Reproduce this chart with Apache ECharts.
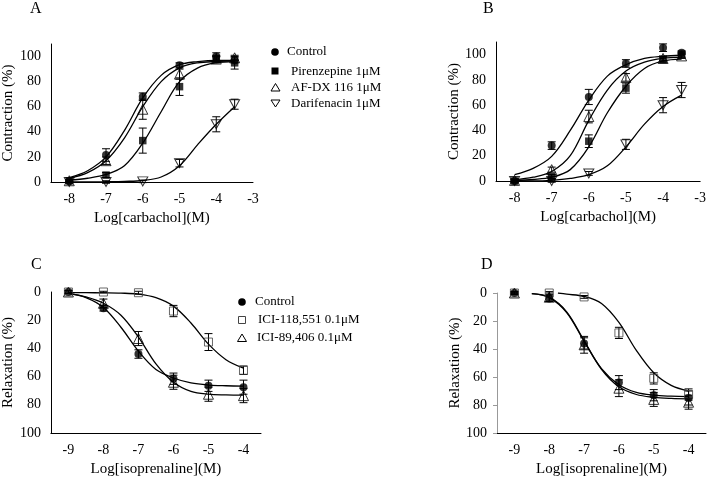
<!DOCTYPE html>
<html><head><meta charset="utf-8">
<script src="https://cdn.jsdelivr.net/npm/echarts@6/dist/echarts.min.js"></script>
<style>html,body{margin:0;padding:0;background:#fff}#c{width:709px;height:478px}</style>
</head><body><div id="c"></div>
<script>
// ---- x positions (log molar) ----
const carbX = [-8, -7, -6, -5, -4, -3.5];
const isoX = [-9, -8, -7, -6, -5, -4];

// ---- Panel A: carbachol contraction ----
const aControl = [0.5, 21.5, 68, 93, 100, 97];
const aControlErr = [1, 5, 3, 2, 3, 2];
const aPiren = [1, 5.5, 33, 76, 98, 95];
const aPirenErr = [1, 2, 10, 7, 3, 5];
const aAfdx = [1, 17, 58, 86, 98, 99];
const aAfdxErr = [1, 3, 8, 4, 2, 2];
const aDari = [0, 0, 0.5, 15, 46, 62];
const aDariErr = [0.5, 1, 1, 3, 6, 4];
const aFitX = [-8, -7.5, -7, -6.5, -6, -5.5, -5, -4.5, -4, -3.5];
const aControlFit = [3.5, 9, 20, 41, 67, 85, 93.5, 96, 97, 97];
const aAfdxFit = [3, 7.5, 17, 35, 60, 80, 91, 95, 96, 96.5];
const aPirenFit = [1.5, 3, 6, 13, 31, 56, 80, 91, 95, 96];
const aDariFit = [0, 0, 0.2, 0.5, 1.2, 4, 13, 30, 46, 60];

// ---- Panel B ----
const bControl = [0, 28, 66.5, 93, 105.5, 101.5];
const bControlErr = [1, 3, 6, 3, 3, 1.5];
const bPiren = [0, 3.5, 31.5, 73.5, 96, 100];
const bPirenErr = [1, 1.5, 5, 4, 2, 2];
const bAfdx = [0.5, 9, 51, 82, 97, 99];
const bAfdxErr = [1, 2, 5, 3, 2, 2];
const bDari = [0, 0, 6, 29, 60, 72];
const bDariErr = [0.5, 1, 1.5, 4, 6, 6];
const bFitX = [-8, -7.5, -7, -6.5, -6, -5.5, -5, -4.5, -4, -3.5];
const bControlFit = [5, 10, 19.5, 40, 64, 83, 92, 97, 98.7, 99.5];
const bAfdxFit = [1, 3, 7.5, 20, 48, 72, 87, 94, 97, 98];
const bPirenFit = [0.5, 1.2, 3, 9, 27, 54, 75, 89, 95, 96.5];
const bDariFit = [0, 0, 0.5, 2, 5, 12, 27, 45, 59, 68];

// ---- Panel C: isoprenaline relaxation ----
const cControl = [0, 11.5, 44, 61.5, 66.5, 67.5];
const cControlErr = [1, 2, 3, 4, 4, 5];
const cIci118 = [0, 0, 0.5, 13.5, 35.5, 55.5];
const cIci118Err = [1, 0.5, 1, 4, 6, 3];
const cIci89 = [0, 8, 33, 64, 72.5, 73.5];
const cIci89Err = [1, 3, 5, 5, 5, 5];
const cFitX = [-9, -8.5, -8, -7.5, -7, -6.5, -6, -5.5, -5, -4.5, -4];
const cControlFit = [1, 4, 11, 25, 42, 55, 61, 64.5, 66, 66.5, 66.7];
const cIci89Fit = [1, 3.5, 8, 16.5, 32, 51, 64, 70.5, 72.5, 73, 73.2];
const cIci118Fit = [0.5, 0.5, 0.6, 0.8, 1.5, 4, 10, 22, 37, 48, 54];

// ---- Panel D ----
const dControl = [0, 4, 36, 64, 73, 75];
const dControlErr = [1, 2, 4, 5, 4, 5];
const dIci118 = [0, 0, 2.8, 28.5, 61, 72.5];
const dIci118Err = [0.5, 1, 1, 4, 4, 4];
const dIci89 = [0, 3, 37, 68, 76, 78];
const dIci89Err = [1, 3, 6, 6, 5, 5];
const dFitX = [-8.5, -8, -7.5, -7, -6.5, -6, -5.5, -5, -4.5, -4];
const dControlFit = [0.5, 3.3, 14, 34.5, 54, 65.5, 71, 73, 73.7, 74];
const dIci89Fit = [0.5, 3, 13.5, 34, 54.5, 67, 72.5, 74.5, 75.3, 75.6];
const dIci118FitX = [-7.75, -7.5, -7, -6.5, -6, -5.5, -5, -4.5, -4];
const dIci118Fit = [0, 0.8, 2.5, 7.5, 21, 41, 57, 66, 70];

// ---- tick labels / names ----
const carbName = 'Log[carbachol](M)';
const isoName = 'Log[isoprenaline](M)';
const contrName = 'Contraction (%)';
const relaxName = 'Relaxation (%)';

const FONT = 'Liberation Serif';
const chart = echarts.init(document.getElementById('c'));

function zip(xs, ys) { return xs.map((x, i) => [x, ys[i]]); }
function zip3(xs, ys, es) { return xs.map((x, i) => [x, ys[i], es[i]]); }

function xAx(g, min, max, name) {
  return {
    type: 'value', gridIndex: g, min: min, max: max, interval: 0.5,
    name: name, nameLocation: 'middle', nameGap: 29,
    nameTextStyle: { fontFamily: FONT, fontSize: 15, color: '#000' },
    axisLine: { onZero: false, lineStyle: { color: '#000', width: 1 } },
    axisTick: { show: false },
    splitLine: { show: false },
    axisLabel: {
      margin: 10, fontFamily: FONT, fontSize: 14, color: '#000',
      showMinLabel: true, showMaxLabel: true,
      formatter: v => (Math.abs(v - Math.round(v)) < 1e-9 ? String(Math.round(v)) : '')
    }
  };
}
function yAx(g, max, inverse, name, axColor) {
  return {
    type: 'value', gridIndex: g, min: 0, max: max, interval: 20, inverse: inverse,
    name: name, nameLocation: 'middle', nameGap: 27,
    nameTextStyle: { fontFamily: FONT, fontSize: 15, color: '#000' },
    axisLine: { show: true, onZero: false, lineStyle: { color: axColor, width: 1 } },
    axisTick: { show: axColor !== '#000', length: 4, lineStyle: { color: axColor } },
    splitLine: { show: false },
    axisLabel: {
      margin: 10, fontFamily: FONT, fontSize: 14, color: '#000',
      showMaxLabel: max === 100,
      formatter: v => (v > 100 ? '' : String(v))
    }
  };
}

function errRender(params, api) {
  const x = api.value(0), y = api.value(1), e = api.value(2);
  const p1 = api.coord([x, y - e]), p2 = api.coord([x, y + e]);
  const w = 4;
  const st = { stroke: '#000', lineWidth: 1 };
  return {
    type: 'group', children: [
      { type: 'line', shape: { x1: p1[0], y1: p1[1], x2: p2[0], y2: p2[1] }, style: st },
      { type: 'line', shape: { x1: p1[0] - w, y1: p1[1], x2: p1[0] + w, y2: p1[1] }, style: st },
      { type: 'line', shape: { x1: p2[0] - w, y1: p2[1], x2: p2[0] + w, y2: p2[1] }, style: st }
    ]
  };
}

const series = [];
function fit(g, xs, ys) {
  series.push({
    type: 'line', xAxisIndex: g, yAxisIndex: g, data: zip(xs, ys),
    showSymbol: false, smooth: 0.35, silent: true,
    lineStyle: { color: '#000', width: 1.3 }, z: 2
  });
}
const SYM = {
  circle: { symbol: 'circle', symbolSize: 8, itemStyle: { color: '#000' } },
  square: { symbol: 'rect', symbolSize: 7.5, itemStyle: { color: '#000' } },
  openSquare: { symbol: 'rect', symbolSize: 8, itemStyle: { color: 'rgba(0,0,0,0)', borderColor: '#444', borderWidth: 1 } },
  tri: { symbol: 'triangle', symbolSize: 10, itemStyle: { color: 'rgba(0,0,0,0)', borderColor: '#000', borderWidth: 1 } },
  invTri: { symbol: 'path://M0,0 L10,0 L5,9 Z', symbolSize: [10, 9], itemStyle: { color: 'rgba(0,0,0,0)', borderColor: '#000', borderWidth: 1 } }
};
function pts(g, name, xs, ys, es, sym) {
  series.push({
    type: 'custom', name: name + ' err', xAxisIndex: g, yAxisIndex: g,
    data: zip3(xs, ys, es), renderItem: errRender, encode: { x: 0, y: 1 }, z: 3, silent: true
  });
  series.push(Object.assign({
    type: 'scatter', name: name, xAxisIndex: g, yAxisIndex: g,
    data: zip(xs, ys), z: 4, silent: true
  }, JSON.parse(JSON.stringify(SYM[sym]))));
}

// A
fit(0, aFitX, aControlFit); fit(0, aFitX, aAfdxFit); fit(0, aFitX, aPirenFit); fit(0, aFitX, aDariFit);
pts(0, 'A Darifenacin', carbX, aDari, aDariErr, 'invTri');
pts(0, 'A AF-DX', carbX, aAfdx, aAfdxErr, 'tri');
pts(0, 'A Pirenzepine', carbX, aPiren, aPirenErr, 'square');
pts(0, 'A Control', carbX, aControl, aControlErr, 'circle');
// B
fit(1, bFitX, bControlFit); fit(1, bFitX, bAfdxFit); fit(1, bFitX, bPirenFit); fit(1, bFitX, bDariFit);
pts(1, 'B Darifenacin', carbX, bDari, bDariErr, 'invTri');
pts(1, 'B AF-DX', carbX, bAfdx, bAfdxErr, 'tri');
pts(1, 'B Pirenzepine', carbX, bPiren, bPirenErr, 'square');
pts(1, 'B Control', carbX, bControl, bControlErr, 'circle');
// C
fit(2, cFitX, cControlFit); fit(2, cFitX, cIci89Fit); fit(2, cFitX, cIci118Fit);
pts(2, 'C ICI-89', isoX, cIci89, cIci89Err, 'tri');
pts(2, 'C ICI-118', isoX, cIci118, cIci118Err, 'openSquare');
pts(2, 'C Control', isoX, cControl, cControlErr, 'circle');
// D
fit(3, dFitX, dControlFit); fit(3, dFitX, dIci89Fit); fit(3, dIci118FitX, dIci118Fit);
pts(3, 'D ICI-89', isoX, dIci89, dIci89Err, 'tri');
pts(3, 'D ICI-118', isoX, dIci118, dIci118Err, 'openSquare');
pts(3, 'D Control', isoX, dControl, dControlErr, 'circle');

const txt = (x, y, s, size) => ({
  type: 'text', x: x, y: y, silent: true,
  style: { text: s, fontFamily: FONT, fontSize: size || 13, fill: '#000', verticalAlign: 'middle', align: 'left' }
});
const openStyle = { fill: 'none', stroke: '#000', lineWidth: 1 };

const graphic = [
  txt(30, 9, 'A', 16), txt(483, 9, 'B', 16), txt(31, 265, 'C', 16), txt(481, 265, 'D', 16),
  // legend A
  { type: 'circle', shape: { cx: 275, cy: 52, r: 3.8 }, style: { fill: '#000' }, silent: true },
  txt(287, 52, 'Control'),
  { type: 'rect', shape: { x: 271.5, y: 67.5, width: 7, height: 7 }, style: { fill: '#000' }, silent: true },
  txt(291, 71.5, 'Pirenzepine 1μM'),
  { type: 'polygon', shape: { points: [[275.5, 83.5], [280, 91], [271, 91]] }, style: openStyle, silent: true },
  txt(291, 87.5, 'AF-DX 116 1μM'),
  { type: 'polygon', shape: { points: [[271, 100], [280, 100], [275.5, 107]] }, style: openStyle, silent: true },
  txt(291, 103.5, 'Darifenacin 1μM'),
  // legend C
  { type: 'circle', shape: { cx: 242, cy: 302, r: 3.8 }, style: { fill: '#000' }, silent: true },
  txt(255, 302, 'Control'),
  { type: 'rect', shape: { x: 238.5, y: 316.5, width: 7, height: 7 }, style: { fill: 'none', stroke: '#444', lineWidth: 1 }, silent: true },
  txt(258, 320, 'ICI-118,551 0.1μM'),
  { type: 'polygon', shape: { points: [[242, 334], [246.5, 341.5], [237.5, 341.5]] }, style: openStyle, silent: true },
  txt(257, 338, 'ICI-89,406 0.1μM')
];

chart.setOption({
  animation: false,
  backgroundColor: '#fff',
  grid: [
    { left: 47, top: 44, width: 206, height: 138 },
    { left: 496, top: 42, width: 209, height: 139 },
    { left: 50, top: 292, width: 211, height: 141 },
    { left: 497, top: 293, width: 211, height: 140 }
  ],
  xAxis: [
    xAx(0, -8.5, -3, carbName), xAx(1, -8.5, -3, carbName),
    xAx(2, -9.5, -3.5, isoName), xAx(3, -9.5, -3.5, isoName)
  ],
  yAxis: [
    yAx(0, 110, false, contrName, '#000'), yAx(1, 110, false, contrName, '#000'),
    yAx(2, 100, true, relaxName, '#000'), yAx(3, 100, true, relaxName, '#999')
  ],
  graphic: graphic,
  series: series
});
</script></body></html>
